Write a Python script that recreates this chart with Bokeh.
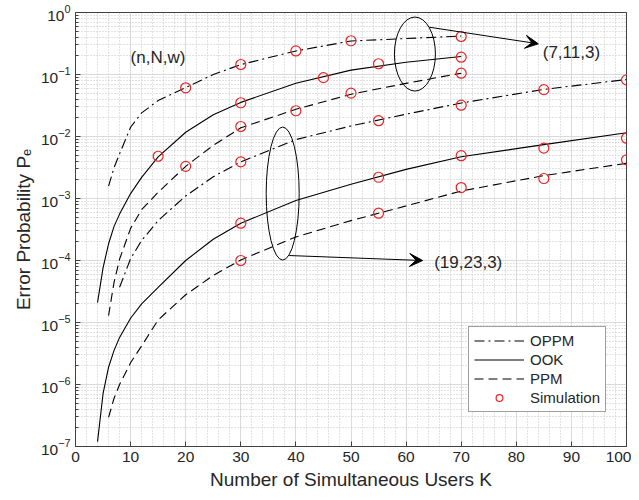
from bokeh.plotting import figure
from bokeh.models import (Range1d, FixedTicker, SingleIntervalTicker,
                          Legend, LegendItem, Label, Arrow, VeeHead)
from bokeh.embed import file_html
from bokeh.resources import INLINE

FONT = "Liberation Sans"

# ---------------- data ----------------
# (7,11,3) theory curves
k_oppm_a = [6, 7, 8, 10, 12, 15, 20, 25, 30, 40, 50, 60, 70]
p_oppm_a = [1.58e-3, 3.16e-3, 5.25e-3, 0.0141, 0.024, 0.038, 0.0617, 0.10, 0.1445, 0.24, 0.347, 0.38, 0.417]
k_ook_a = [4, 5, 6, 7, 8, 10, 12, 15, 20, 25, 30, 40, 50, 60, 70]
p_ook_a = [2.09e-5, 7.6e-5, 1.86e-4, 3.55e-4, 5.6e-4, 1.2e-3, 2.19e-3, 4.68e-3, 0.0117, 0.0224, 0.0355, 0.0724, 0.1175, 0.158, 0.195]
k_ppm_a = [6, 7, 8, 10, 12, 15, 20, 25, 30, 40, 50, 60, 70]
p_ppm_a = [1.29e-5, 4.47e-5, 1.05e-4, 3.3e-4, 6.6e-4, 1.26e-3, 3.3e-3, 7.2e-3, 0.0138, 0.0275, 0.048, 0.072, 0.105]

# (19,23,3) theory curves
k_oppm_b = [8, 10, 12, 15, 20, 25, 30, 40, 50, 60, 70, 85, 100]
p_oppm_b = [3.7e-5, 1.07e-4, 2.1e-4, 4.4e-4, 1.1e-3, 2.24e-3, 3.9e-3, 8.9e-3, 0.0148, 0.0229, 0.0347, 0.0575, 0.083]
k_ook_b = [4, 5, 6, 7, 8, 10, 12, 15, 20, 25, 30, 40, 50, 60, 70, 85, 100]
p_ook_b = [1.2e-7, 7.1e-7, 1.9e-6, 3.55e-6, 5.75e-6, 1.17e-5, 2.0e-5, 3.7e-5, 1.0e-4, 2.2e-4, 4.0e-4, 9.3e-4, 1.7e-3, 2.95e-3, 4.7e-3, 7.4e-3, 0.0115]
k_ppm_b = [6, 7, 8, 10, 12, 15, 20, 25, 30, 40, 50, 60, 70, 85, 100]
p_ppm_b = [2.95e-7, 6.0e-7, 1.0e-6, 2.24e-6, 4.2e-6, 1.1e-5, 2.8e-5, 5.75e-5, 1.02e-4, 2.4e-4, 4.4e-4, 7.6e-4, 1.32e-3, 2.34e-3, 3.7e-3]

# simulation points
sim_k_oppm_a = [20, 30, 40, 50, 70]
sim_p_oppm_a = [0.061, 0.145, 0.24, 0.35, 0.41]
sim_k_ook_a = [15, 30, 45, 55, 70]
sim_p_ook_a = [4.8e-3, 0.035, 0.089, 0.149, 0.19]
sim_k_ppm_a = [20, 30, 40, 50, 70]
sim_p_ppm_a = [3.3e-3, 0.0145, 0.026, 0.05, 0.105]
sim_k_oppm_b = [30, 55, 70, 85, 100]
sim_p_oppm_b = [3.9e-3, 0.018, 0.032, 0.057, 0.082]
sim_k_ook_b = [30, 55, 70, 85, 100]
sim_p_ook_b = [4.0e-4, 2.2e-3, 4.9e-3, 6.5e-3, 9.4e-3]
sim_k_ppm_b = [30, 55, 70, 85, 100]
sim_p_ppm_b = [1.0e-4, 5.8e-4, 1.5e-3, 2.1e-3, 4.2e-3]

y_exponents = [-7, -6, -5, -4, -3, -2, -1, 0]

# ---------------- figure ----------------
p = figure(width=631, height=492, x_range=Range1d(0, 100), y_range=Range1d(1e-7, 1),
           y_axis_type="log", output_backend="svg", toolbar_location=None,
           min_border_left=75, min_border_right=5, min_border_top=12, min_border_bottom=44)
p.background_fill_color = "white"
p.border_fill_color = "white"
p.outline_line_color = "#404040"
p.outline_line_width = 1

y_major = [10.0 ** e for e in y_exponents]
y_minor = [m * 10.0 ** e for e in y_exponents[:-1] for m in range(2, 10)]
yticker = FixedTicker(ticks=y_major, minor_ticks=y_minor)
xticker = SingleIntervalTicker(interval=10, num_minor_ticks=5)

p.xaxis.ticker = xticker
p.yaxis.ticker = yticker
p.xgrid.ticker = xticker
p.ygrid.ticker = yticker

for ax in (p.xaxis[0], p.yaxis[0]):
    ax.axis_line_color = "#404040"
    ax.major_tick_line_color = "#404040"
    ax.major_tick_in = 5
    ax.major_tick_out = 0
    ax.minor_tick_in = 3
    ax.minor_tick_out = 0
    ax.major_label_text_font = FONT
    ax.major_label_text_font_size = "15.5px"
    ax.major_label_text_color = "#262626"
    ax.axis_label_text_font = FONT
    ax.axis_label_text_font_size = "19px"
    ax.axis_label_text_font_style = "normal"
    ax.axis_label_text_color = "#262626"
    ax.major_label_standoff = 5
    ax.axis_label_standoff = 4
p.xaxis.minor_tick_line_color = None
p.yaxis.minor_tick_line_color = "#404040"
p.xaxis.axis_label = "Number of Simultaneous Users K"
p.yaxis.axis_label = "Error Probability P\u2091"

for g in (p.xgrid[0], p.ygrid[0]):
    g.grid_line_color = "#dadada"
    g.grid_line_width = 1
    g.minor_grid_line_color = "#c4c4c4"
    g.minor_grid_line_dash = "1 2"
    g.minor_grid_line_width = 1

# ---------------- curves ----------------
DASHDOT = "10 4 2 4"
DASHED = "9 5"
LW = 1.1
r_oppm = p.line(k_oppm_a, p_oppm_a, line_color="black", line_width=LW, line_dash=DASHDOT)
r_ook = p.line(k_ook_a, p_ook_a, line_color="black", line_width=LW)
r_ppm = p.line(k_ppm_a, p_ppm_a, line_color="black", line_width=LW, line_dash=DASHED)
p.line(k_oppm_b, p_oppm_b, line_color="black", line_width=LW, line_dash=DASHDOT)
p.line(k_ook_b, p_ook_b, line_color="black", line_width=LW)
p.line(k_ppm_b, p_ppm_b, line_color="black", line_width=LW, line_dash=DASHED)

sim_r = None
for kk, pp in ((sim_k_oppm_a, sim_p_oppm_a), (sim_k_ook_a, sim_p_ook_a), (sim_k_ppm_a, sim_p_ppm_a),
               (sim_k_oppm_b, sim_p_oppm_b), (sim_k_ook_b, sim_p_ook_b), (sim_k_ppm_b, sim_p_ppm_b)):
    r = p.scatter(kk, pp, marker="circle", size=10, fill_color=None, line_color="#ee2222", line_width=1.2)
    if sim_r is None:
        sim_r = r

# ---------------- annotations ----------------
p.ellipse(x=[61.6], y=[10 ** -0.67], width=41, height=74, width_units="screen", height_units="screen",
          fill_color=None, line_color="black", line_width=1)
p.ellipse(x=[37.6], y=[10 ** -2.92], width=33, height=133, width_units="screen", height_units="screen",
          fill_color=None, line_color="black", line_width=1)

p.add_layout(Arrow(end=VeeHead(size=13, fill_color="black", line_color="black", line_width=1),
                   x_start=64.2, y_start=10 ** -0.237, x_end=84.0, y_end=10 ** -0.505,
                   line_color="black", line_width=1))
p.add_layout(Arrow(end=VeeHead(size=13, fill_color="black", line_color="black", line_width=1),
                   x_start=38.8, y_start=10 ** -3.92, x_end=63.0, y_end=10 ** -4.0,
                   line_color="black", line_width=1))

for x, y, t in ((10.0, 10 ** -0.73, "(n,N,w)"), (84.8, 10 ** -0.64, "(7,11,3)"),
                (65.1, 10 ** -4.03, "(19,23,3)")):
    p.add_layout(Label(x=x, y=y, text=t, text_baseline="middle", text_align="left",
                       text_font=FONT, text_font_size="17px", text_color="#262626"))

legend = Legend(items=[LegendItem(label="OPPM", renderers=[r_oppm]),
                       LegendItem(label="OOK", renderers=[r_ook]),
                       LegendItem(label="PPM", renderers=[r_ppm]),
                       LegendItem(label="Simulation", renderers=[sim_r])],
                location=(393, 34), glyph_width=50, glyph_height=17, label_height=17,
                spacing=2, padding=5, margin=0, label_standoff=6,
                label_text_font=FONT, label_text_font_size="15px", label_text_color="#262626",
                border_line_color="#404040", border_line_width=1, background_fill_color="white",
                background_fill_alpha=1)
p.add_layout(legend)

open("out.html", "w").write(file_html(p, INLINE))
